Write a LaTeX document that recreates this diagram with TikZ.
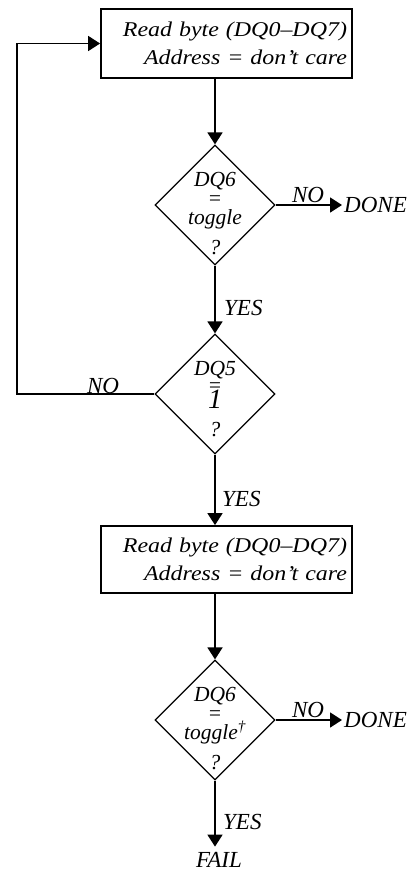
\documentclass[tikz,border=0pt]{standalone}
\usepackage{fontspec}
\setmainfont{Liberation Serif}
\newfontfamily\boxfont[FakeStretch=1.14]{Liberation Serif}
\usetikzlibrary{shapes.geometric, arrows.meta}

\begin{document}
\begin{tikzpicture}[x=1pt, y=-1pt,
  procbox/.style={draw, line width=1.8pt, minimum width=251pt, text width=241pt,
    inner xsep=5pt, inner ysep=0pt, align=right,
    font=\boxfont\itshape\fontsize{21}{28}\selectfont},
  decision/.style={draw, diamond, line width=1.2pt, minimum width=120pt,
    minimum height=120pt, inner sep=0pt},
  dtext/.style={anchor=north, inner sep=0pt, align=center,
    font=\itshape\fontsize{21.5}{19}\selectfont},
  lbl/.style={inner sep=0pt, font=\itshape\fontsize{23}{23}\selectfont},
  flow/.style={line width=1.7pt, -{Triangle[length=12pt, width=15pt]}},
]
\useasboundingbox (0,0) rectangle (418,873);

% process boxes
\node[procbox, minimum height=69pt] (b1) at (226.5,43.5)
  {Read byte (DQ0–DQ7)\\Address = don’t care};
\node[procbox, minimum height=67pt] (b2) at (226.5,559.5)
  {Read byte (DQ0–DQ7)\\Address = don’t care};

% decisions
\node[decision] (d1) at (215,205) {};
\node[dtext] (q1) at (215,172) {DQ6\\=\\toggle\\[11pt]?};

\node[decision] (d2) at (215,394) {};
\node[dtext] (q2) at (215,361)
  {DQ5\\[-2pt]=\\[-3pt]{\fontsize{28}{19}\selectfont 1}\\[9pt]?};

\node[decision] (d3) at (215,720) {};
\node[dtext] (q3) at (215,687) {DQ6\\=\\toggle\textsuperscript{†}\\[11pt]?};

% outcome labels
\node[lbl, anchor=west, inner xsep=2pt] (done1) at (342,205) {DONE};
\node[lbl, anchor=west, inner xsep=2pt] (done2) at (342,720) {DONE};
\node[lbl, anchor=base] (fail) at (219,867) {FAIL};

% branch labels
\node[lbl, anchor=base] (no1) at (308,202) {NO};
\node[lbl, anchor=base] (no2) at (103,393) {NO};
\node[lbl, anchor=base] (no3) at (308,717) {NO};
\node[lbl, anchor=base west] (yes1) at (224,315) {YES};
\node[lbl, anchor=base west] (yes2) at (222,506) {YES};
\node[lbl, anchor=base west] (yes3) at (223,829) {YES};

\coordinate (loop) at (17,394);

% connectors
\draw[flow] (b1.south -| d1.north) -- (d1.north);
\draw[flow] (d1.east) -- (done1.west);
\draw[flow] (d1.south) -- (d2.north);
\draw[flow] (d2.west) -- (loop) |- (b1.west);
\draw[flow] (d2.south) -- (b2.north -| d2.south);
\draw[flow] (b2.south -| d3.north) -- (d3.north);
\draw[flow] (d3.east) -- (done2.west);
\draw[flow, shorten >=5pt] (d3.south) -- (d3.south |- fail.north);
\end{tikzpicture}
\end{document}
